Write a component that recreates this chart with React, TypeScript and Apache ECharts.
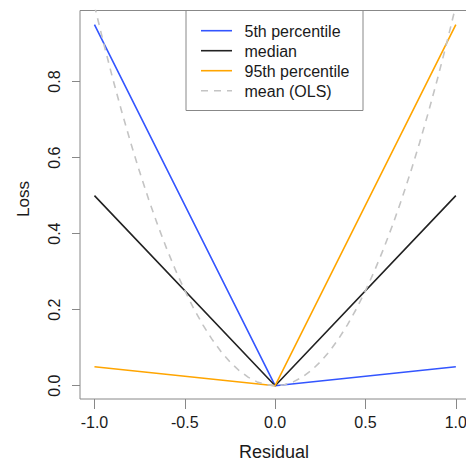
import React, { useEffect, useRef } from "react";
import * as echarts from "echarts";

const residualX = [-1, 0, 1];
const p5Loss = [0.95, 0, 0.05];
const medianLoss = [0.5, 0, 0.5];
const p95Loss = [0.05, 0, 0.95];

const meanX = [
  -1, -0.95, -0.9, -0.85, -0.8, -0.75, -0.7, -0.65, -0.6, -0.55, -0.5, -0.45, -0.4, -0.35, -0.3, -0.25, -0.2, -0.15, -0.1, -0.05,
  0, 0.05, 0.1, 0.15, 0.2, 0.25, 0.3, 0.35, 0.4, 0.45, 0.5, 0.55, 0.6, 0.65, 0.7, 0.75, 0.8, 0.85, 0.9, 0.95, 1,
];
const meanLoss = [
  1, 0.9025, 0.81, 0.7225, 0.64, 0.5625, 0.49, 0.4225, 0.36, 0.3025, 0.25, 0.2025, 0.16, 0.1225, 0.09, 0.0625, 0.04, 0.0225, 0.01, 0.0025,
  0, 0.0025, 0.01, 0.0225, 0.04, 0.0625, 0.09, 0.1225, 0.16, 0.2025, 0.25, 0.3025, 0.36, 0.4225, 0.49, 0.5625, 0.64, 0.7225, 0.81, 0.9025, 1,
];

const xTicks = [-1, -0.5, 0, 0.5, 1];
const yTicks = [0, 0.2, 0.4, 0.6, 0.8];
const legendNames = ["5th percentile", "median", "95th percentile", "mean (OLS)"];

const BLUE = "#3355ff";
const BLACK = "#222222";
const ORANGE = "#ffa500";
const GRAY = "#c4c4c4";
const FONT = "Liberation Sans, Arial, Helvetica, sans-serif";

export default function App() {
  const ref = useRef<HTMLDivElement>(null);
  useEffect(() => {
    if (!ref.current) return;
    const chart = echarts.init(ref.current, null, { renderer: "svg" });
    const pair = (xs: number[], ys: number[]) => xs.map((x, i) => [x, ys[i]]);
    const legendColors = [BLUE, BLACK, ORANGE, GRAY];
    const legendEls: any[] = [
      {
        type: "rect",
        shape: { x: 186, y: 10.5, width: 177, height: 100 },
        style: { fill: "#fff", stroke: "#888", lineWidth: 1 },
        z: 10,
      },
    ];
    legendNames.forEach((name, i) => {
      const y = 30.7 + i * 20;
      legendEls.push({
        type: "line",
        shape: { x1: 201, y1: y, x2: 232, y2: y },
        style: {
          stroke: legendColors[i],
          lineWidth: 1.6,
          lineDash: i === 3 ? [7, 6] : null,
        },
        z: 11,
      });
      legendEls.push({
        type: "text",
        x: 244.5,
        y: y + 0.5,
        style: {
          text: name,
          fill: "#1a1a1a",
          font: `16px ${FONT}`,
          textAlign: "left",
          textVerticalAlign: "middle",
        },
        z: 11,
      });
    });

    chart.setOption({
      animation: false,
      backgroundColor: "#fff",
      grid: {
        show: true,
        left: 80,
        top: 10.5,
        right: -4.3,
        bottom: 64,
        borderColor: "#888",
        borderWidth: 1,
        containLabel: false,
        outerBoundsMode: "none",
      },
      xAxis: {
        type: "value",
        min: -1.08,
        max: 1.08,
        axisLine: { show: false, onZero: false },
        splitLine: { show: false },
        axisTick: { show: true, length: 10, lineStyle: { color: "#888" }, customValues: xTicks },
        axisLabel: {
          customValues: xTicks,
          margin: 15,
          fontSize: 16,
          fontFamily: FONT,
          color: "#1a1a1a",
          formatter: (v: number) => v.toFixed(1),
        },
      },
      yAxis: {
        type: "value",
        min: -0.035,
        max: 0.987,
        axisLine: { show: false, onZero: false },
        splitLine: { show: false },
        axisTick: { show: true, length: 8, lineStyle: { color: "#888" }, customValues: yTicks },
        axisLabel: {
          customValues: yTicks,
          rotate: 90,
          margin: 18,
          fontSize: 16,
          fontFamily: FONT,
          color: "#1a1a1a",
          formatter: (v: number) => v.toFixed(1),
        },
      },
      series: [
        {
          name: legendNames[0],
          type: "line",
          data: pair(residualX, p5Loss),
          symbol: "none",
          lineStyle: { color: BLUE, width: 1.6 },
        },
        {
          name: legendNames[1],
          type: "line",
          data: pair(residualX, medianLoss),
          symbol: "none",
          lineStyle: { color: BLACK, width: 1.6 },
        },
        {
          name: legendNames[2],
          type: "line",
          data: pair(residualX, p95Loss),
          symbol: "none",
          lineStyle: { color: ORANGE, width: 1.6 },
        },
        {
          name: legendNames[3],
          type: "line",
          data: pair(meanX, meanLoss),
          symbol: "none",
          clip: true,
          lineStyle: { color: GRAY, width: 1.6, type: [7, 6] },
        },
      ],
      graphic: [
        ...legendEls,
        {
          type: "text",
          x: 274,
          y: 452,
          style: {
            text: "Residual",
            fill: "#1a1a1a",
            font: `18px ${FONT}`,
            textAlign: "center",
            textVerticalAlign: "middle",
          },
        },
        {
          type: "text",
          x: 23,
          y: 199,
          rotation: Math.PI / 2,
          style: {
            text: "Loss",
            fill: "#1a1a1a",
            font: `17px ${FONT}`,
            textAlign: "center",
            textVerticalAlign: "middle",
          },
        },
      ],
    });
    return () => chart.dispose();
  }, []);
  return <div ref={ref} style={{ width: 466, height: 463, position: "absolute", left: 0, top: 0 }} />;
}
